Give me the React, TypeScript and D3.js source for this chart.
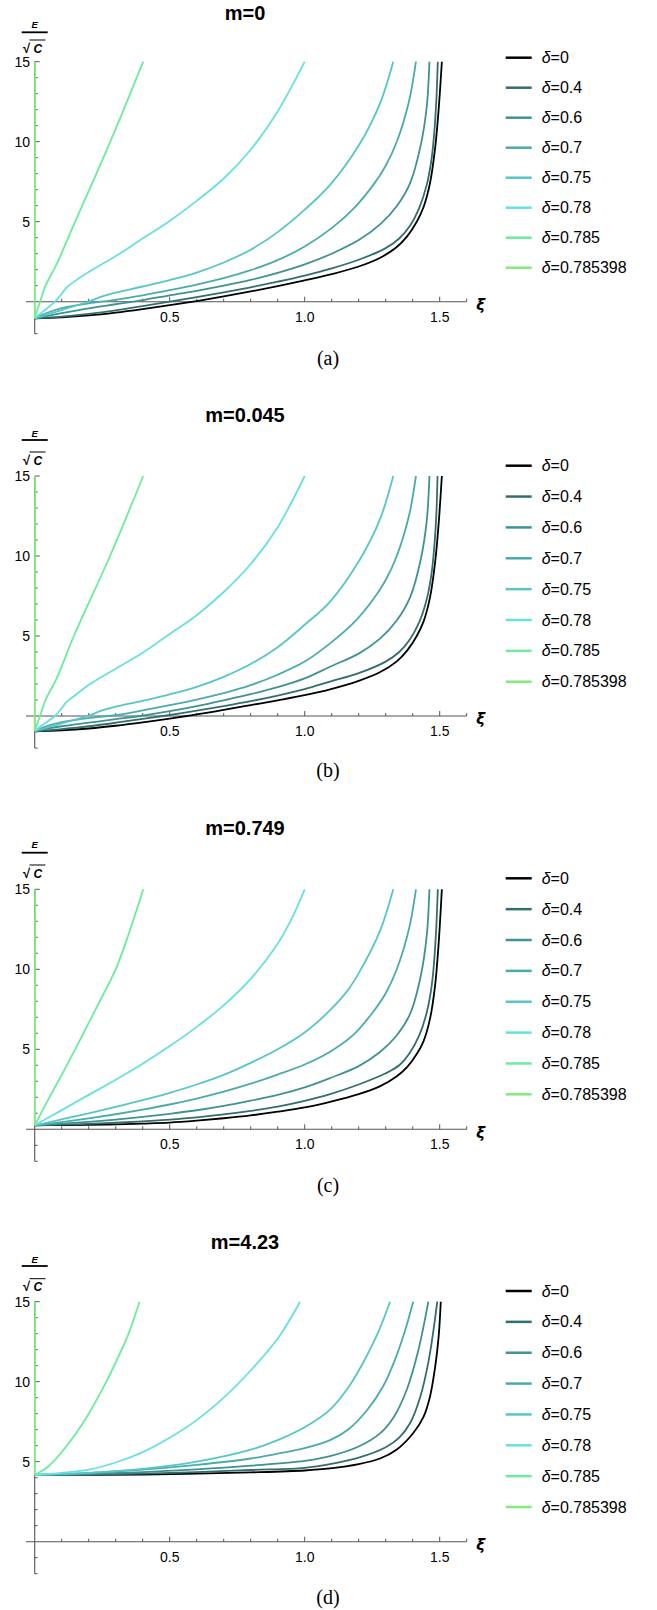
import React from "react";
import * as d3 from "d3";

// ---------- data ----------
const deltaLabels = ["0", "0.4", "0.6", "0.7", "0.75", "0.78", "0.785", "0.785398"];
const seriesColors = ["#000000", "#336e6e", "#3f9292", "#4aabab", "#56c6c6", "#68e0e0", "#6cec9e", "#80ec7e"];
const panelTitles = ["m=0", "m=0.045", "m=0.749", "m=4.23"];
const captions = ["(a)", "(b)", "(c)", "(d)"];
const xTickLabels = [0.5, 1.0, 1.5];
const yTickLabels = [5, 10, 15];

// [ξ, E/√C] points, one list per δ (same order as deltaLabels)
const curvesM0: number[][][] = [
  [[0,-1.04],[0.1,-0.98],[0.2,-0.86],[0.3,-0.68],[0.4,-0.46],[0.5,-0.22],[0.6,0.04],[0.7,0.33],[0.8,0.64],[0.9,0.97],[1.0,1.33],[1.1,1.72],[1.2,2.2],[1.28,2.75],[1.34,3.4],[1.38,4.1],[1.415,5.0],[1.44,5.9],[1.464,7.4],[1.483,9.6],[1.496,12.0],[1.508,15]],
  [[0,-1.04],[0.1,-0.93],[0.2,-0.76],[0.3,-0.54],[0.4,-0.28],[0.5,0.0],[0.6,0.28],[0.7,0.58],[0.8,0.9],[0.9,1.25],[1.0,1.63],[1.1,2.08],[1.2,2.62],[1.3,3.35],[1.35,3.95],[1.39,4.75],[1.425,5.9],[1.452,7.3],[1.468,8.7],[1.477,10],[1.487,12.4],[1.493,15]],
  [[0,-1.04],[0.05,-0.88],[0.1,-0.72],[0.2,-0.42],[0.3,-0.16],[0.4,0.1],[0.5,0.4],[0.6,0.68],[0.7,1.0],[0.8,1.36],[0.9,1.8],[1.0,2.33],[1.1,3.0],[1.2,3.85],[1.28,4.85],[1.34,5.95],[1.39,7.4],[1.43,9.8],[1.452,12.2],[1.462,15]],
  [[0,-1.04],[0.03,-0.8],[0.07,-0.55],[0.12,-0.32],[0.2,-0.1],[0.3,0.12],[0.4,0.4],[0.5,0.72],[0.6,1.07],[0.7,1.47],[0.8,1.97],[0.9,2.6],[1.0,3.45],[1.1,4.6],[1.18,5.8],[1.254,7.3],[1.3,8.5],[1.341,10],[1.386,12.5],[1.412,15]],
  [[0,-1.04],[0.05,-0.78],[0.1,-0.52],[0.15,-0.26],[0.2,0.0],[0.25,0.33],[0.3,0.57],[0.4,0.95],[0.5,1.35],[0.6,1.82],[0.7,2.45],[0.8,3.25],[0.9,4.35],[1.0,5.75],[1.094,7.3],[1.205,9.9],[1.279,12.4],[1.328,15]],
  [[0,-1.04],[0.03,-0.62],[0.075,0],[0.1,0.5],[0.118,0.88],[0.15,1.3],[0.2,1.85],[0.3,2.85],[0.4,3.95],[0.5,5.05],[0.6,6.3],[0.7,7.7],[0.8,9.5],[0.9,11.9],[1.0,15]],
  [[0,-1.04],[0.01,-0.5],[0.02,0],[0.04,1.0],[0.08,2.3],[0.15,5.0],[0.28,10],[0.402,15]],
  [[0,-1.04],[0.0015,15]],
];

const curvesM0045: number[][][] = [
  [[0,-0.94],[0.1,-0.89],[0.2,-0.78],[0.3,-0.61],[0.4,-0.4],[0.5,-0.16],[0.563,0],[0.6,0.1],[0.7,0.38],[0.8,0.68],[0.9,0.98],[1.0,1.3],[1.094,1.67],[1.2,2.2],[1.28,2.75],[1.34,3.4],[1.38,4.1],[1.415,5.0],[1.44,5.9],[1.464,7.4],[1.483,9.6],[1.496,12.0],[1.508,15]],
  [[0,-0.94],[0.1,-0.82],[0.2,-0.64],[0.3,-0.42],[0.4,-0.18],[0.475,0],[0.6,0.33],[0.7,0.62],[0.8,0.93],[0.9,1.28],[1.0,1.68],[1.094,2.15],[1.2,2.68],[1.3,3.4],[1.35,4.0],[1.39,4.8],[1.425,5.9],[1.452,7.3],[1.468,8.7],[1.477,10],[1.487,12.4],[1.492,15]],
  [[0,-0.94],[0.05,-0.78],[0.1,-0.64],[0.2,-0.42],[0.3,-0.2],[0.39,0],[0.5,0.3],[0.6,0.62],[0.7,0.98],[0.8,1.36],[0.9,1.8],[1.0,2.35],[1.094,3.08],[1.2,3.9],[1.28,4.85],[1.34,5.95],[1.39,7.4],[1.43,9.8],[1.452,12.2],[1.462,15]],
  [[0,-0.94],[0.03,-0.72],[0.07,-0.5],[0.12,-0.32],[0.2,-0.13],[0.3,0.05],[0.4,0.35],[0.5,0.68],[0.6,1.03],[0.7,1.43],[0.8,1.93],[0.9,2.58],[1.0,3.4],[1.094,4.54],[1.18,5.8],[1.254,7.3],[1.3,8.5],[1.341,10],[1.386,12.5],[1.412,15]],
  [[0,-0.94],[0.05,-0.7],[0.1,-0.46],[0.15,-0.22],[0.2,0.02],[0.25,0.35],[0.3,0.58],[0.4,0.95],[0.5,1.35],[0.6,1.82],[0.7,2.45],[0.8,3.25],[0.9,4.3],[1.0,5.7],[1.094,7.15],[1.205,9.8],[1.279,12.3],[1.328,15]],
  [[0,-0.94],[0.03,-0.55],[0.075,0],[0.1,0.48],[0.118,0.88],[0.15,1.3],[0.205,2.0],[0.3,2.95],[0.4,3.95],[0.489,5.0],[0.6,6.3],[0.7,7.75],[0.8,9.5],[0.9,11.8],[1.0,15]],
  [[0,-0.94],[0.01,-0.45],[0.02,0],[0.04,1.0],[0.08,2.3],[0.145,5.0],[0.279,10],[0.402,15]],
  [[0,-0.94],[0.0015,15]],
];

const curvesM0749: number[][][] = [
  [[0,0.25],[0.1,0.26],[0.2,0.28],[0.3,0.31],[0.4,0.36],[0.5,0.42],[0.6,0.54],[0.7,0.69],[0.8,0.87],[0.9,1.1],[1.0,1.37],[1.094,1.72],[1.2,2.2],[1.28,2.7],[1.34,3.3],[1.38,3.9],[1.415,4.7],[1.44,5.5],[1.464,6.9],[1.483,9.0],[1.496,11.6],[1.508,15]],
  [[0,0.25],[0.1,0.29],[0.2,0.34],[0.3,0.41],[0.4,0.5],[0.5,0.61],[0.6,0.75],[0.7,0.93],[0.8,1.15],[0.9,1.42],[1.0,1.78],[1.094,2.2],[1.2,2.8],[1.3,3.5],[1.35,4.0],[1.39,4.8],[1.425,5.9],[1.452,7.3],[1.468,8.7],[1.477,10],[1.487,12.5],[1.493,15]],
  [[0,0.25],[0.1,0.35],[0.2,0.47],[0.3,0.61],[0.4,0.78],[0.5,0.97],[0.6,1.19],[0.7,1.46],[0.8,1.79],[0.9,2.15],[1.0,2.62],[1.094,3.2],[1.2,3.95],[1.28,4.85],[1.34,5.85],[1.39,7.2],[1.43,9.6],[1.452,12.1],[1.462,15]],
  [[0,0.25],[0.1,0.45],[0.2,0.68],[0.3,0.94],[0.4,1.23],[0.5,1.55],[0.6,1.92],[0.7,2.35],[0.8,2.85],[0.9,3.42],[1.0,4.05],[1.094,4.85],[1.18,5.9],[1.254,7.35],[1.3,8.5],[1.341,10],[1.386,12.5],[1.412,15]],
  [[0,0.25],[0.1,0.62],[0.2,1.0],[0.3,1.4],[0.4,1.82],[0.5,2.28],[0.6,2.8],[0.7,3.4],[0.8,4.15],[0.9,5.0],[1.0,6.05],[1.094,7.45],[1.16,8.7],[1.205,9.9],[1.279,12.4],[1.328,15]],
  [[0,0.25],[0.1,1.2],[0.2,2.15],[0.3,3.1],[0.4,4.1],[0.5,5.2],[0.6,6.4],[0.7,7.75],[0.8,9.4],[0.9,11.6],[0.95,13.1],[1.0,15]],
  [[0,0.25],[0.05,1.85],[0.1,3.4],[0.15,5.0],[0.2,6.65],[0.25,8.3],[0.3,10.0],[0.35,12.3],[0.402,15]],
  [[0,0.25],[0.0015,15]],
];

const curvesM423: number[][][] = [
  [[0,4.17],[0.2,4.18],[0.4,4.2],[0.6,4.25],[0.8,4.33],[1.0,4.45],[1.094,4.58],[1.2,4.85],[1.279,5.2],[1.34,5.75],[1.4,6.75],[1.44,7.8],[1.464,9.06],[1.483,10.9],[1.496,12.8],[1.504,15]],
  [[0,4.17],[0.2,4.2],[0.4,4.26],[0.6,4.35],[0.8,4.48],[1.0,4.62],[1.094,4.85],[1.2,5.25],[1.3,5.9],[1.35,6.5],[1.39,7.4],[1.427,9.0],[1.46,11.4],[1.491,15]],
  [[0,4.17],[0.2,4.23],[0.4,4.35],[0.6,4.52],[0.8,4.75],[1.0,5.05],[1.094,5.35],[1.2,5.95],[1.279,6.77],[1.33,7.8],[1.378,9.5],[1.42,11.9],[1.458,15]],
  [[0,4.17],[0.2,4.3],[0.4,4.5],[0.6,4.8],[0.8,5.2],[0.9,5.5],[1.0,5.85],[1.094,6.35],[1.16,7.0],[1.23,8.2],[1.29,9.7],[1.335,11.4],[1.37,13.1],[1.402,15]],
  [[0,4.17],[0.2,4.3],[0.4,4.55],[0.6,5.0],[0.8,5.75],[0.9,6.35],[1.0,7.15],[1.094,8.25],[1.16,9.6],[1.217,11.2],[1.27,13.0],[1.316,15]],
  [[0,4.17],[0.1,4.3],[0.2,4.5],[0.3,4.95],[0.4,5.6],[0.5,6.5],[0.6,7.6],[0.7,9.0],[0.8,10.7],[0.9,12.7],[0.983,15]],
  [[0,4.17],[0.05,4.7],[0.1,5.6],[0.15,6.7],[0.2,8.0],[0.25,9.5],[0.3,11.2],[0.35,13.1],[0.388,15]],
  [[0,4.17],[0.0015,15]],
];

const panelCurves = [curvesM0, curvesM0045, curvesM0749, curvesM423];

// ---------- layout ----------
const W = 657;
const H = 1610;
const layout = [
  { y15: 61.7, title: 13.3, cap: 358, leg: 57.7, step: 30, fE: 25, fBar: 32.3, fC: 48 },
  { y15: 476, title: 415, cap: 770, leg: 465.7, step: 30.86, fE: 433.3, fBar: 440, fC: 460 },
  { y15: 889.3, title: 828.3, cap: 1185, leg: 878.3, step: 30.86, fE: 845, fBar: 852.7, fC: 873 },
  { y15: 1301.7, title: 1241.7, cap: 1596.7, leg: 1291, step: 30.86, fE: 1260, fBar: 1266, fC: 1286.7 },
];
const AXIS = "#555";
const SANS = "'Liberation Sans', Arial, Helvetica, sans-serif";

const x = d3.scaleLinear().domain([0, 1.6]).range([34.7, 466.7]);

function Panel({ i }: { i: number }) {
  const L = layout[i];
  const y = d3.scaleLinear().domain([-2, 15]).range([L.y15 + 272, L.y15]);
  const line = d3
    .line<number[]>()
    .x((d) => x(d[0]))
    .y((d) => y(d[1]))
    .curve(d3.curveCatmullRom.alpha(0.5));
  const y0 = y(0);
  const xMinor = d3.range(1, 17).map((k) => k / 10).filter((v) => Math.abs(v * 2 - Math.round(v * 2)) > 1e-6);
  const yMinor = d3.range(-2, 16).filter((v) => v % 5 !== 0);
  const ax = x(0);
  return (
    <g>
      {/* title */}
      <text x={245} y={L.title} dy="0.35em" textAnchor="middle" fontFamily={SANS} fontWeight="bold" fontSize={20}>
        {panelTitles[i]}
      </text>
      {/* y label E/√C */}
      <text x={ax} y={L.fE} dy="0.35em" textAnchor="middle" fontFamily={SANS} fontWeight="bold" fontStyle="italic" fontSize={9.5}>
        E
      </text>
      <line x1={21.7} x2={47.7} y1={L.fBar} y2={L.fBar} stroke="#000" strokeWidth={1.8} />
      <text x={26.5} y={L.fC + 4.5} textAnchor="middle" fontFamily={SANS} fontWeight="bold" fontSize={13}>
        √
      </text>
      <line x1={29.5} x2={45.5} y1={L.fC - 8} y2={L.fC - 8} stroke="#000" strokeWidth={1} />
      <text x={37.8} y={L.fC} dy="0.38em" textAnchor="middle" fontFamily={SANS} fontWeight="bold" fontStyle="italic" fontSize={12}>
        C
      </text>
      {/* axes */}
      <line x1={26} x2={x(1.6)} y1={y0} y2={y0} stroke={AXIS} strokeWidth={1.1} />
      <line x1={ax} x2={ax} y1={y(15)} y2={y(-2)} stroke={AXIS} strokeWidth={1.1} />
      {xTickLabels.map((t) => (
        <g key={"xt" + t}>
          <line x1={x(t)} x2={x(t)} y1={y0} y2={y0 - 5} stroke={AXIS} strokeWidth={1} />
          <text x={x(t)} y={y0 + 15} dy="0.35em" textAnchor="middle" fontFamily={SANS} fontSize={14}>
            {t.toFixed(1)}
          </text>
        </g>
      ))}
      {xMinor.map((t) => (
        <line key={"xm" + t} x1={x(t)} x2={x(t)} y1={y0} y2={y0 - 3} stroke={AXIS} strokeWidth={1} />
      ))}
      {yTickLabels.map((t) => (
        <g key={"yt" + t}>
          <line x1={ax} x2={ax + 5} y1={y(t)} y2={y(t)} stroke={AXIS} strokeWidth={1} />
          <text x={30} y={y(t)} dy="0.35em" textAnchor="end" fontFamily={SANS} fontSize={14}>
            {t}
          </text>
        </g>
      ))}
      {yMinor.map((t) => (
        <line key={"ym" + t} x1={ax} x2={ax + 3} y1={y(t)} y2={y(t)} stroke={AXIS} strokeWidth={1} />
      ))}
      <text x={480.7} y={y0 + 3} dy="0.35em" textAnchor="middle" fontFamily="'DejaVu Sans', sans-serif" fontWeight="bold" fontStyle="italic" fontSize={15}>
        ξ
      </text>
      {/* curves */}
      {panelCurves[i].map((c, k) => (
        <path key={"c" + k} d={line(c) || ""} fill="none" stroke={seriesColors[k]} strokeWidth={1.8} strokeLinejoin="round" />
      ))}
      {/* legend */}
      {deltaLabels.map((lab, k) => {
        const ly = L.leg + k * L.step;
        return (
          <g key={"lg" + k}>
            <line x1={505.7} x2={531.7} y1={ly} y2={ly} stroke={seriesColors[k]} strokeWidth={2.5} />
            <text x={541.7} y={ly} dy="0.35em" fontFamily={SANS} fontSize={16}>
              <tspan fontStyle="italic">δ</tspan>
              {"=" + lab}
            </text>
          </g>
        );
      })}
      {/* caption */}
      <text x={328} y={L.cap} dy="0.35em" textAnchor="middle" fontFamily="'Liberation Serif', 'Times New Roman', serif" fontSize={20}>
        {captions[i]}
      </text>
    </g>
  );
}

export default function App() {
  return (
    <svg width={W} height={H} style={{ position: "absolute", left: 0, top: 0, background: "#fff" }}>
      <rect x={0} y={0} width={W} height={H} fill="#fff" />
      {[0, 1, 2, 3].map((i) => (
        <Panel key={i} i={i} />
      ))}
    </svg>
  );
}
